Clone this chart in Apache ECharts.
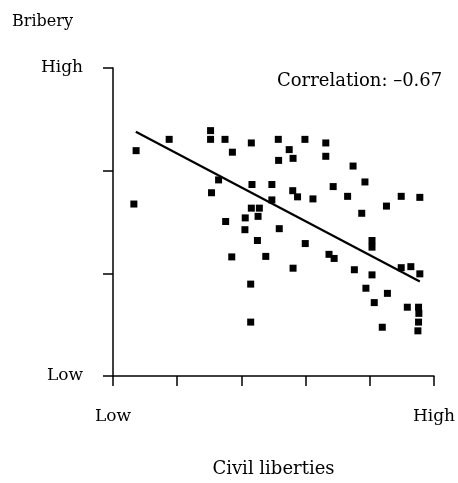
<!DOCTYPE html>
<html>
<head>
<meta charset="utf-8">
<script src="https://cdn.jsdelivr.net/npm/echarts@6/dist/echarts.min.js"></script>
<style>html,body{margin:0;padding:0;background:#fff}#c{width:458px;height:483px}</style>
</head>
<body>
<div id="c"></div>
<script>
// Civil liberties (0 = Low, 100 = High)
const civilLiberties = [7.2,6.5,17.5,30.4,30.4,34.9,32.9,30.7,35.1,37.2,43.1,51.5,59.8,66.3,54.9,51.6,56.1,66.3,43.3,49.5,56.0,57.5,62.3,49.5,43.1,45.6,41.2,45.2,41.1,51.8,74.8,78.5,68.6,73.1,89.8,95.6,85.2,77.5,45.0,59.9,37.0,47.6,56.1,67.3,68.9,42.9,42.9,80.7,80.7,75.2,80.7,89.8,92.8,95.6,78.8,85.5,81.4,91.7,95.2,95.3,95.2,95.0,83.9];
// Bribery (0 = Low, 60 = High)
const bribery = [43.9,33.5,46.1,47.8,46.1,46.1,38.2,35.7,30.1,43.6,45.4,46.1,46.1,45.4,44.1,42.0,42.4,42.8,37.3,37.3,36.1,34.9,34.5,34.3,32.7,32.7,30.8,31.1,28.5,28.7,40.9,37.8,36.9,35.0,35.0,34.8,33.1,31.7,26.4,25.8,23.2,23.3,21.0,23.7,22.9,17.9,10.5,26.4,25.1,20.7,19.7,21.1,21.3,19.9,17.1,16.1,14.3,13.4,13.4,12.2,10.5,8.8,9.5];
// Fitted line endpoints
const trendX = [7.1, 95.6];
const trendY = [47.6, 18.4];
const xTickLabels = {0: 'Low', 100: 'High'};
const yTickLabels = {0: 'Low', 60: 'High'};
const correlationText = 'Correlation: \u20130.67';

const FONT = 'DejaVu Serif';
const points = civilLiberties.map((x, i) => [x, bribery[i]]);
const trend = trendX.map((x, i) => [x, trendY[i]]);

const chart = echarts.init(document.getElementById('c'), null, {renderer: 'canvas'});
chart.setOption({
  animation: false,
  backgroundColor: '#fff',
  textStyle: {fontFamily: FONT, color: '#000'},
  title: [
    {text: 'Bribery', left: 7, top: 9, textStyle: {fontFamily: FONT, fontSize: 16, fontWeight: 'normal', color: '#000'}},
    {text: correlationText, left: 272, top: 67, textStyle: {fontFamily: FONT, fontSize: 18, fontWeight: 'normal', color: '#000'}}
  ],
  grid: {left: 113, top: 68, right: 23, bottom: 101, containLabel: false},
  xAxis: {
    type: 'value', min: 0, max: 100, interval: 20,
    name: 'Civil liberties', nameLocation: 'middle', nameGap: 84,
    nameTextStyle: {fontFamily: FONT, fontSize: 18, color: '#000'},
    axisLine: {show: true, lineStyle: {color: '#000', width: 1.5}},
    axisTick: {show: true, length: 10, lineStyle: {color: '#000', width: 1.5}},
    splitLine: {show: false},
    axisLabel: {margin: 32, fontFamily: FONT, fontSize: 17, color: '#000',
      formatter: v => xTickLabels[v] || ''}
  },
  yAxis: {
    type: 'value', min: 0, max: 60, interval: 20,
    axisLine: {show: true, lineStyle: {color: '#000', width: 1.5}},
    axisTick: {show: true, length: 10, lineStyle: {color: '#000', width: 1.5}},
    splitLine: {show: false},
    axisLabel: {margin: 30, fontFamily: FONT, fontSize: 17, color: '#000',
      formatter: v => yTickLabels[v] || ''}
  },
  series: [
    {type: 'scatter', data: points, symbol: 'rect', symbolSize: 7,
      itemStyle: {color: '#000', opacity: 1}, z: 3},
    {type: 'line', data: trend, symbol: 'none', silent: true,
      lineStyle: {color: '#000', width: 2.2}, z: 2}
  ]
});
</script>
</body>
</html>
